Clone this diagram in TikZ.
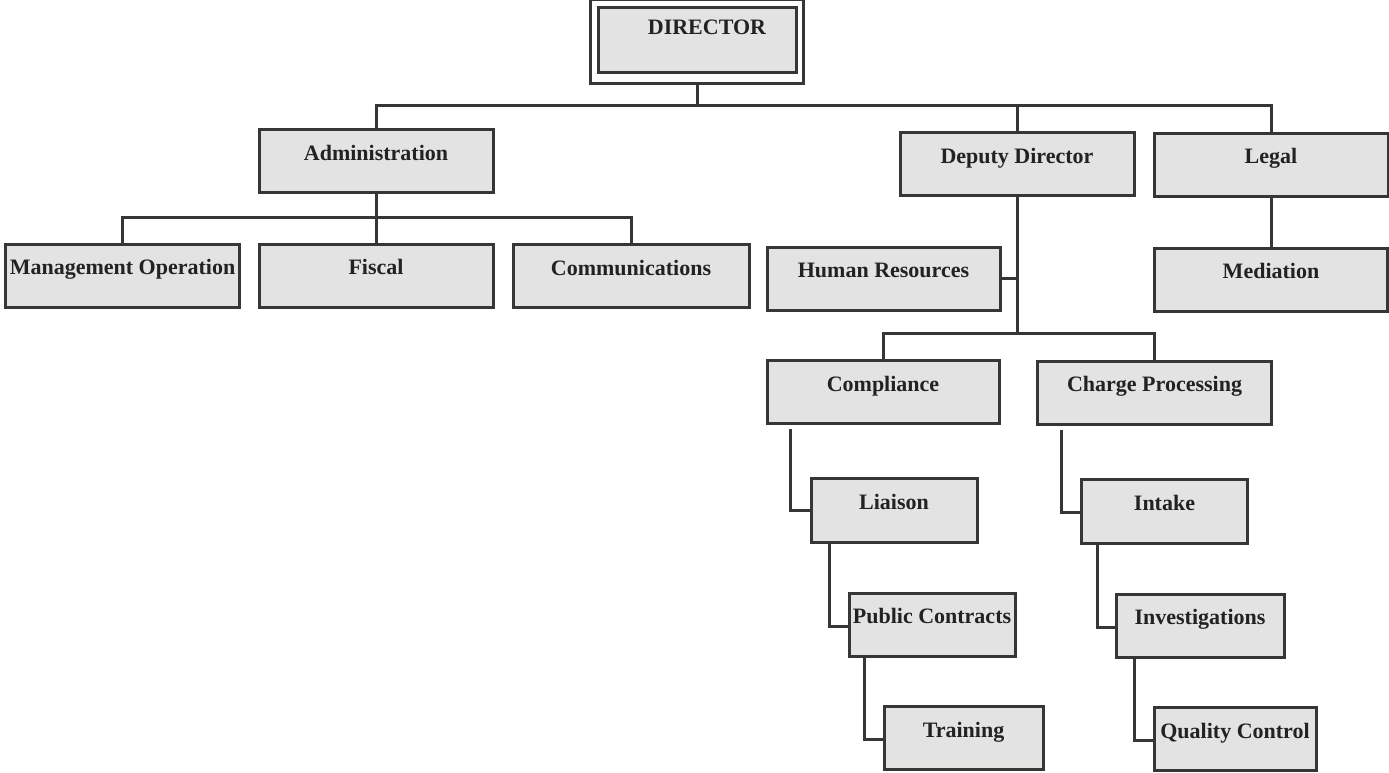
\documentclass[tikz,border=0pt]{standalone}
\usepackage{fontspec}
\setmainfont{Liberation Serif}
\usetikzlibrary{fit}
\definecolor{linec}{HTML}{363636}
\definecolor{boxfill}{HTML}{E3E3E3}
\definecolor{textc}{HTML}{222222}
\begin{document}
\begin{tikzpicture}[x=1pt,y=-1pt,
  orgbox/.style={draw=linec, line width=3pt, fill=boxfill, inner sep=0pt,
    minimum height=63pt, text height=15pt, text depth=17pt, text=textc,
    font=\fontsize{22}{26}\selectfont\bfseries},
  wide/.style={minimum width=234pt},
  narrow/.style={minimum width=166pt},
  frame/.style={draw=linec, line width=3pt, inner sep=0pt},
  conn/.style={draw=linec, line width=3pt},
]
\useasboundingbox (0,0) rectangle (1389,772);

% Director
\node[orgbox, minimum width=198pt, minimum height=65pt, text height=15pt, text depth=25pt]
  (dir) at (697,39.5) {\hspace{20pt}DIRECTOR};
\coordinate (dfa) at ([xshift=-6pt,yshift=6pt]dir.north west);
\coordinate (dfb) at ([xshift=6pt,yshift=-10pt]dir.south east);
\node[frame, fit=(dfa)(dfb)] (dirframe) {};

% level 1
\node[orgbox, wide] (admin)  at (376,161) {Administration};
\node[orgbox, wide] (deputy) at (1017,164) {Deputy Director};
\node[orgbox, wide] (legal)  at (1271,164.5) {Legal};

% level 2
\node[orgbox, wide] (mgmt)   at (122.5,275.5) {Management Operation};
\node[orgbox, wide] (fiscal) at (376,275.5) {Fiscal};
\node[orgbox, minimum width=236pt] (comm) at (631,276) {Communications};
\node[orgbox, minimum width=233pt] (hr) at (883.5,278.5) {Human Resources};
\node[orgbox, minimum width=233pt] (med) at (1271,279.5) {Mediation};

% level 3
\node[orgbox, minimum width=232pt] (comp)   at (883,392) {Compliance};
\node[orgbox, wide] (charge) at (1154.5,392.5) {Charge Processing};

% chains
\node[orgbox, narrow, minimum height=64pt] (liaison) at (894,510) {Liaison};
\node[orgbox, narrow, minimum height=64pt] (intake)  at (1164.5,511) {Intake};
\node[orgbox, narrow] (pubc)   at (932,624.5) {Public Contracts};
\node[orgbox, minimum width=168pt] (invest) at (1200,625.5) {Investigations};
\node[orgbox, minimum width=159pt] (train) at (963.5,738) {Training};
\node[orgbox, minimum width=162pt] (qc)    at (1235,739) {Quality Control};

% connectors
\coordinate (bus1) at (697,105);
\draw[conn] (dirframe.south) -- (bus1);
\draw[conn] (admin.north) |- (bus1) -| (legal.north);
\draw[conn] (deputy.north) -- (deputy.north |- bus1);
\draw[conn] (legal.south) -- (med.north);

\coordinate (bus2) at (376,217);
\draw[conn] (admin.south) -- (bus2);
\draw[conn] (mgmt.north) |- (bus2) -| (comm.north);
\draw[conn] (fiscal.north) -- (fiscal.north |- bus2);

\coordinate (bus3) at (1017,333);
\draw[conn] (deputy.south) -- (bus3);
\draw[conn] (hr.east) -- (hr.east -| bus3);
\draw[conn] (comp.north) |- (bus3) -| (charge.north);

\draw[conn, shorten <=4pt] ([xshift=25pt]comp.south west) |- (liaison.west);
\draw[conn] ([xshift=20pt]liaison.south west) |- ([yshift=-1.5pt]pubc.west);
\draw[conn] ([xshift=17pt]pubc.south west) |- ([yshift=-1pt]train.west);

\draw[conn, shorten <=4pt] ([xshift=25pt]charge.south west) |- ([yshift=-1pt]intake.west);
\draw[conn] ([xshift=17pt]intake.south west) |- ([yshift=-1.5pt]invest.west);
\draw[conn] ([xshift=20pt]invest.south west) |- ([yshift=-1pt]qc.west);
\end{tikzpicture}
\end{document}
